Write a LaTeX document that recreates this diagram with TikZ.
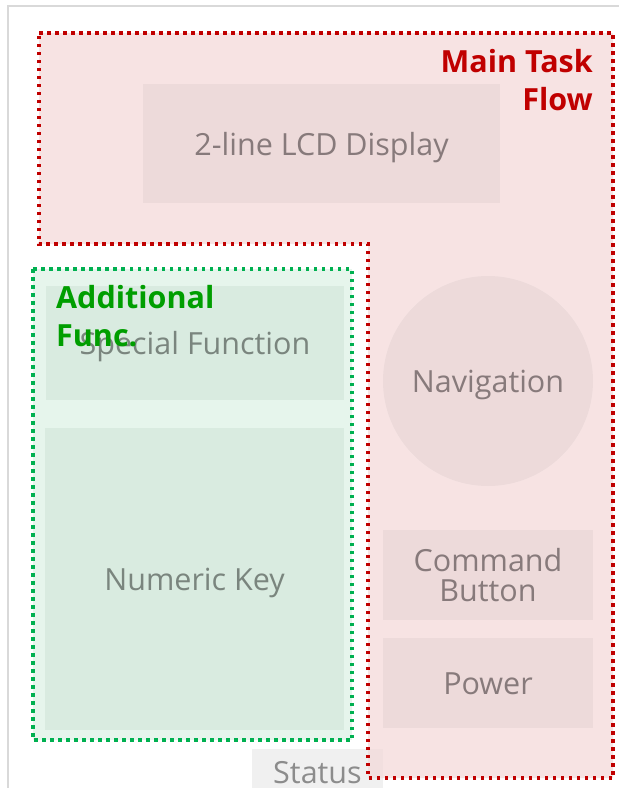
\documentclass[tikz,border=0pt]{standalone}
\usepackage{fontspec}
\setmainfont{Open Sans}
\usepackage{xcolor}
\usetikzlibrary{positioning}

\definecolor{FrameGray}{HTML}{D9D9D9}
\definecolor{MainRed}{HTML}{C00000}
\definecolor{MainFill}{HTML}{F4DADA}
\definecolor{PartPink}{HTML}{EDDADA}
\definecolor{TextPink}{HTML}{877A7B}
\definecolor{AddGreen}{HTML}{00B050}
\definecolor{AddText}{HTML}{009E00}
\definecolor{AddFill}{HTML}{E6F5EC}
\definecolor{PartGreen}{HTML}{D9EBE0}
\definecolor{TextGreen}{HTML}{7A857E}
\definecolor{StatusGray}{HTML}{F0F0F0}

\tikzset{
  keypad/.style={draw=none, inner sep=0pt, align=center, text depth=0pt,
    font=\fontsize{30.5}{31}\selectfont},
  mainpart/.style={keypad, fill=PartPink, text=TextPink},
  addpart/.style={keypad, fill=PartGreen, text=TextGreen},
  zone/.style={line width=3.5pt, dash pattern=on 3.5pt off 4.5pt},
  zonelabel/.style={inner sep=0pt, font=\fontsize{30.5}{38}\selectfont\bfseries}
}

\begin{document}
\begin{tikzpicture}[x=1pt, y=-1pt]
    \useasboundingbox (0,0) rectangle (619,788);
    % outer frame
    \draw[FrameGray, line width=1.5pt] (8,788) -- (8,6) -- (619,6);
    % status strip, partly under the main area
    \node[keypad, fill=StatusGray, text=black!45, minimum width=131pt, minimum height=46pt] (status) at (317.5,772) {Status};
    % main task area (L-shaped)
    \fill[MainFill, fill opacity=0.75] (39,33) -- (613,33) -- (613,778) -- (368,778) -- (368,244) -- (39,244) -- cycle;
    \draw[MainRed, zone] (39,33) -- (613,33) -- (613,778) -- (368,778) -- (368,244) -- (39,244) -- cycle;
    \node[mainpart, minimum width=357pt, minimum height=119pt] (lcd) at (321.5,143.5) {2-line LCD Display};
    \node[mainpart, circle, minimum size=210pt] (nav) at (488,381) {Navigation};
    \node[mainpart, minimum width=210pt, minimum height=90pt] (cmd) at (488,575) {Command\\[-1pt]Button};
    \node[mainpart, minimum width=210pt, minimum height=90pt, below=18pt of cmd] (power) {Power};
    \node[zonelabel, text=MainRed, align=right, anchor=north east] (mainlabel) at (593,49) {Main Task\\Flow};
    % additional functions
    \fill[AddFill] (33,269) rectangle (352,740);
    \draw[AddGreen, zone] (33,269) rectangle (352,740);
    \node[addpart, minimum width=298pt, minimum height=114pt] (special) at (195,343) {Special Function};
    \node[addpart, minimum width=299pt, minimum height=302pt] (numeric) at (194.5,579) {Numeric Key};
    \node[zonelabel, text=AddText, align=left, anchor=north west] (addlabel) at (56,285) {Additional\\Func.};
\end{tikzpicture}
\end{document}
